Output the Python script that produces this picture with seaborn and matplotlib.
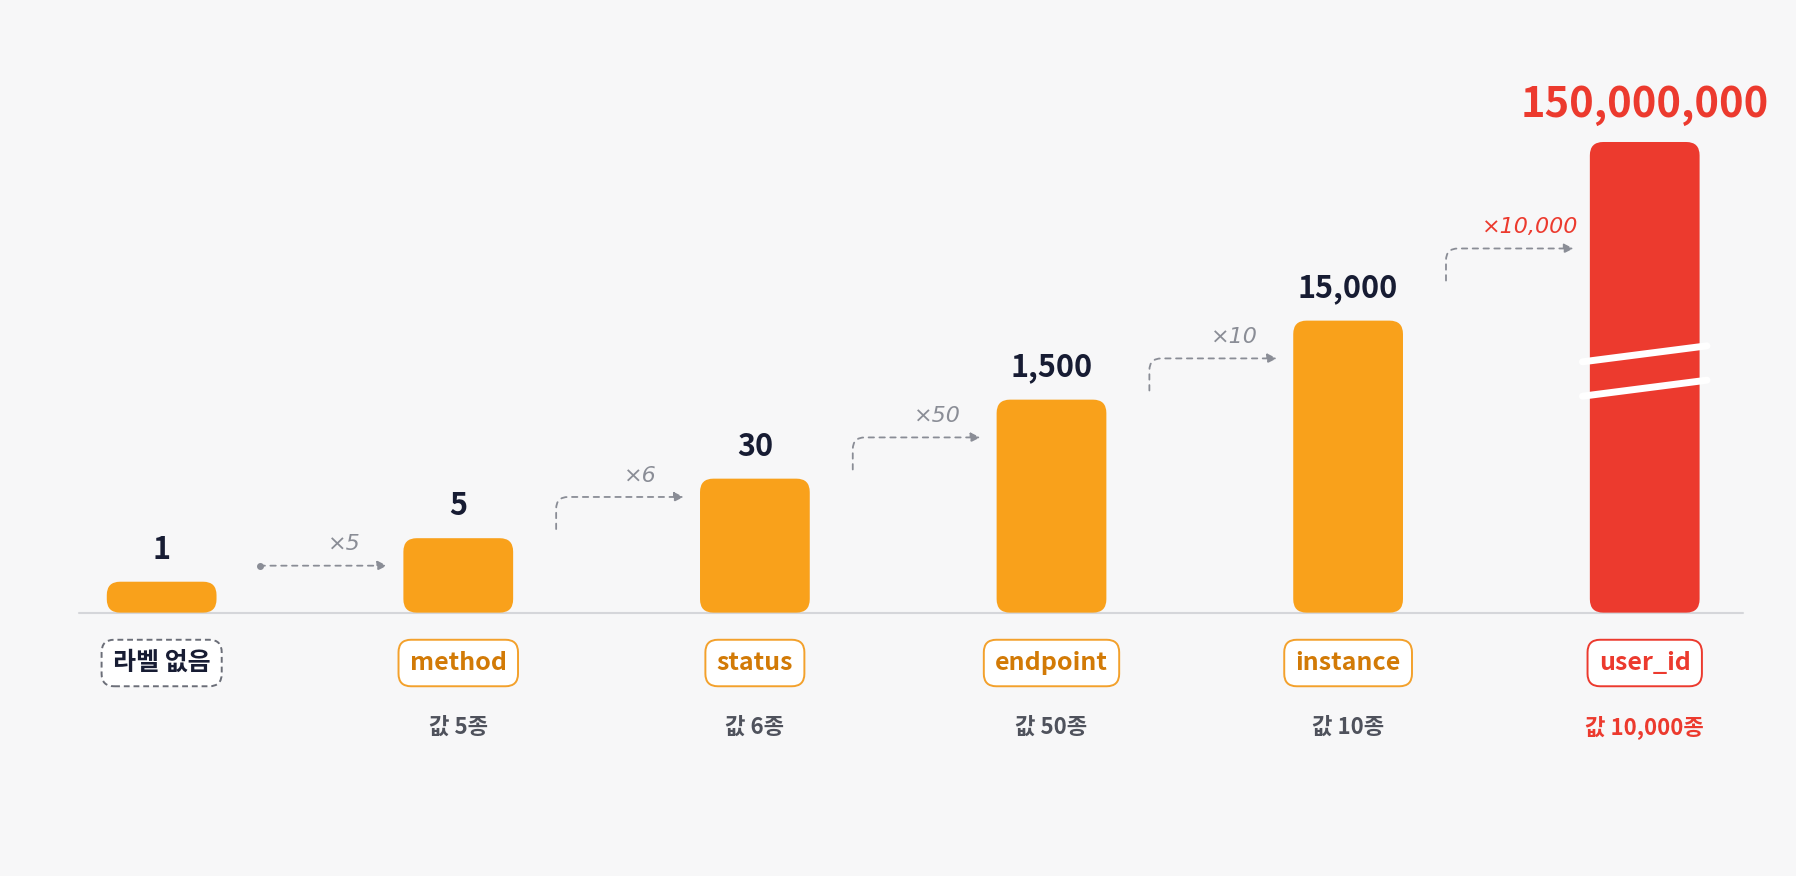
import matplotlib
matplotlib.use("Agg")
import matplotlib.pyplot as plt
import seaborn as sns
from matplotlib.patches import FancyBboxPatch

# data
categories = ["라벨 없음", "method", "status", "endpoint", "instance", "user_id"]
value_labels = ["1", "5", "30", "1,500", "15,000", "150,000,000"]
value_counts = ["", "값 5종", "값 6종", "값 50종", "값 10종", "값 10,000종"]
multipliers = ["×5", "×6", "×50", "×10", "×10,000"]
# drawn bar heights (stylised, not to scale)
bar_heights = [27, 65, 117, 186, 255, 411]

ORANGE = "#F9A11B"
RED = "#EC3A2E"
NAVY = "#171C33"
GRAY = "#8A8D96"

sns.set_theme(style="white")
plt.rcParams["font.family"] = ["Noto Sans CJK KR", "DejaVu Sans"]

fig = plt.figure(figsize=(17.96, 8.76), dpi=100)
fig.patch.set_facecolor("#F7F7F8")
ax = fig.add_axes([0, 0, 1, 1])
ax.set_facecolor("#F7F7F8")

colors = [ORANGE] * 5 + [RED]
sns.barplot(x=categories, y=bar_heights, palette=colors, hue=categories,
            legend=False, width=0.37, ax=ax)
ax.set_xlim(-0.545, 5.51)
ax.set_ylim(-230, 535)
ax.axis("off")

# swap plain bars for rounded ones
for p, c in zip(list(ax.patches), colors):
    x, w, h = p.get_x(), p.get_width(), p.get_height()
    p.remove()
    r = min(0.045, h / 2 / 260)
    ax.add_patch(FancyBboxPatch((x, 0), w, h, boxstyle=f"round,pad=0,rounding_size={r}",
                                mutation_aspect=260, fc=c, ec="none", zorder=3))

ax.plot([-0.28, 5.33], [0, 0], color="#D5D6DA", lw=1.5, zorder=2)

for i, (h, lab) in enumerate(zip(bar_heights, value_labels)):
    last = i == len(categories) - 1
    ax.text(i, h + 14, lab, ha="center", va="bottom", fontsize=30 if last else 22,
            fontweight="bold", color=RED if last else NAVY, zorder=4)

    if i == 0:
        edge, txt, ls = "#6B6E78", NAVY, (0, (3, 2))
    elif last:
        edge, txt, ls = RED, RED, "-"
    else:
        edge, txt, ls = "#F3A12C", "#D27A06", "-"
    ax.text(i, -44, categories[i], ha="center", va="center", fontsize=18,
            fontweight="bold", color=txt, zorder=4,
            bbox=dict(boxstyle="round,pad=0.45,rounding_size=0.5", fc="white",
                      ec=edge, lw=1.4, ls=ls))
    if value_counts[i]:
        ax.text(i, -100, value_counts[i], ha="center", va="center", fontsize=16,
                fontweight="bold", color=RED if last else "#4F525C")

# break marks on the tall bar
for y in (225, 195):
    ax.plot([4.79, 5.21], [y - 6, y + 8], color="white", lw=5, zorder=5,
            solid_capstyle="round")

# step arrows
for i, m in enumerate(multipliers):
    last = i == len(multipliers) - 1
    col = RED if last else GRAY
    x0, x1 = i + 0.33, i + 1 - 0.24
    if i == 0:
        y0 = y1 = bar_heights[0] + 14
        ax.plot(x0, y0, "o", color=GRAY, ms=4)
        cs = "arc3"
    else:
        y0 = bar_heights[i] + (35 if last else 8)
        y1 = y0 + 28
        cs = "angle,angleA=90,angleB=0,rad=12"
    ax.annotate("", xy=(x1, y1), xytext=(x0, y0),
                arrowprops=dict(arrowstyle="-|>", color=GRAY, lw=1.3, ls=(0, (3, 3)),
                                connectionstyle=cs, mutation_scale=14, shrinkA=0, shrinkB=0))
    ax.text((x0 + x1) / 2 + 0.07, y1 + 10, m, ha="center", va="bottom", fontsize=16,
            style="italic", color=col, family=["DejaVu Sans"])

fig.savefig("out.png", dpi=100, facecolor=fig.get_facecolor())
